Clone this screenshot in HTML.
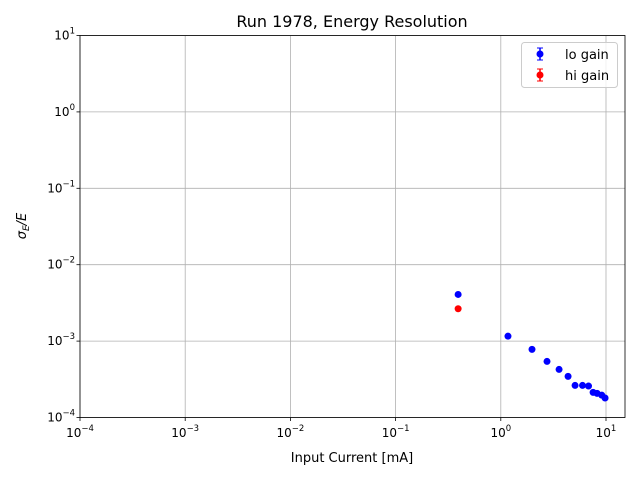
<!DOCTYPE html>
<html><head><meta charset="utf-8"><style>
body{margin:0;background:#fff}
svg{display:block;font-family:"DejaVu Sans","Liberation Sans",sans-serif}
</style></head><body>
<svg id="chart" width="640" height="480">
<rect width="640" height="480" fill="#fff"/>
<g id="grid"></g>
<g id="marks"></g>
<rect x="80" y="35.5" width="545" height="382" fill="none" stroke="#000" stroke-width="0.8"/>
<g id="axes"></g>
<text x="352" y="27" text-anchor="middle" font-size="16">Run 1978, Energy Resolution</text>
<text x="352" y="462" text-anchor="middle" font-size="13">Input Current [mA]</text>
<text transform="translate(26,226) rotate(-90)" text-anchor="middle" font-size="13" font-style="italic">σ<tspan font-size="9" dy="3">E</tspan><tspan dy="-3">/E</tspan></text>
<g>
<rect x="521.5" y="42.5" width="96" height="45" rx="3" fill="#fff" fill-opacity="0.8" stroke="#ccc"/>
<g>
<line x1="540" y1="48" x2="540" y2="60" stroke="#00f" stroke-width="1.5"/><line x1="537" y1="48" x2="543" y2="48" stroke="#00f"/><line x1="537" y1="60" x2="543" y2="60" stroke="#00f"/>
<circle cx="540" cy="54" r="3.5" fill="#00f"/>
<text x="565" y="59" font-size="13">lo gain</text></g>
<g>
<line x1="540" y1="69" x2="540" y2="81" stroke="#f00" stroke-width="1.5"/><line x1="537" y1="69" x2="543" y2="69" stroke="#f00"/><line x1="537" y1="81" x2="543" y2="81" stroke="#f00"/>
<circle cx="540" cy="75" r="3.5" fill="#f00"/>
<text x="565" y="80" font-size="13">hi gain</text></g>
</g>
</svg>
<script>
const loX=[0.393,1.17,1.98,2.75,3.58,4.36,5.08,5.98,6.82,7.54,8.23,9.12,9.8];
const loY=[0.00408,0.00116,0.00078,0.000542,0.000426,0.000345,0.000263,0.000263,0.000258,0.000213,0.000207,0.000196,0.00018];
const hiX=[0.393];
const hiY=[0.00265];
const xTickExp=[-4,-3,-2,-1,0,1];
const yTickExp=[-4,-3,-2,-1,0,1];
const NS="http://www.w3.org/2000/svg";
function xs(v){return 80+(Math.log10(v)+4)*105.2;}
function ys(v){return 417.5-(Math.log10(v)+4)*76.4;}
function mk(t,a,p){const e=document.createElementNS(NS,t);for(const k in a)e.setAttribute(k,a[k]);p.appendChild(e);return e;}
const grid=document.getElementById('grid'),axes=document.getElementById('axes'),marks=document.getElementById('marks');
xTickExp.forEach(k=>{const x=xs(Math.pow(10,k));
 const g=mk('line',{x1:x,x2:x,y1:35.5,y2:417.5,stroke:'#b0b0b0','stroke-width':0.8},grid);
 
 
 mk('line',{x1:x,x2:x,y1:417.5,y2:421,stroke:'#000','stroke-width':0.8},axes);
 const t=mk('text',{x:x,y:437,'text-anchor':'middle','font-size':12},axes);
 
 
 t.textContent='10';const s=mk('tspan',{dy:-6,'font-size':8.5},t);s.textContent=k<0?'−'+(-k):k;
});
yTickExp.forEach(k=>{const y=ys(Math.pow(10,k));
 const g=mk('line',{x1:80,x2:625,y1:y,y2:y,stroke:'#b0b0b0','stroke-width':0.8},grid);
 
 
 mk('line',{x1:76.5,x2:80,y1:y,y2:y,stroke:'#000','stroke-width':0.8},axes);
 const t=mk('text',{x:59,y:y+4,'text-anchor':'end','font-size':12},axes);
 
 
 t.textContent='10';const s=mk('tspan',{dy:-6,'font-size':8.5},t);s.textContent=k<0?'−'+(-k):k;
 t.setAttribute('x',75);
});
function series(X,Y,c,name){X.forEach((v,i)=>{
 const p=mk('circle',{cx:xs(v),cy:ys(Y[i]),r:3.5,fill:c},marks);
 
 
});}
series(loX,loY,'#00f','lo-gain');
series(hiX,hiY,'#f00','hi-gain');
</script>
</body></html>
